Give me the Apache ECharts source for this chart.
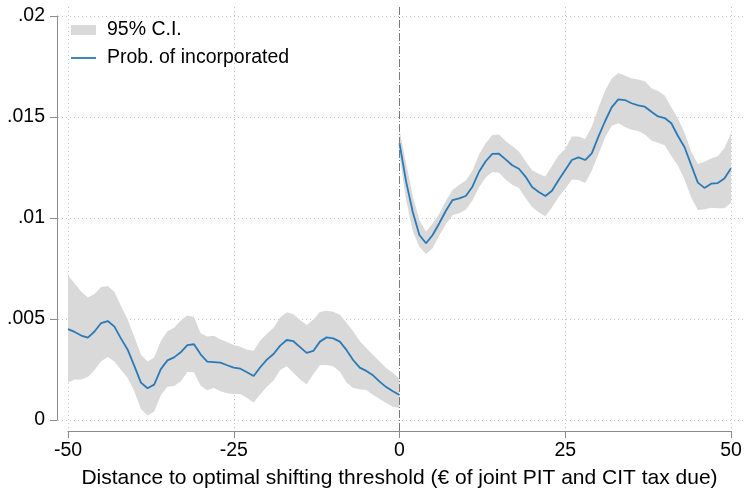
<!DOCTYPE html>
<html><head><meta charset="utf-8">
<script src="https://cdn.jsdelivr.net/npm/echarts@6/dist/echarts.min.js"></script>
<style>html,body{margin:0;padding:0;background:#fff}#c{width:745px;height:491px}</style>
</head><body><div id="c"></div>
<script>
// ---- data ----
const xLeft = [-50,-49,-48,-47,-46,-45,-44,-43,-42,-41,-40,-39,-38,-37,-36,-35,-34,-33,-32,-31,-30,-29,-28,-27,-26,-25,-24,-23,-22,-21,-20,-19,-18,-17,-16,-15,-14,-13,-12,-11,-10,-9,-8,-7,-6,-5,-4,-3,-2,-1,0];
const xRight = [0,1,2,3,4,5,6,7,8,9,10,11,12,13,14,15,16,17,18,19,20,21,22,23,24,25,26,27,28,29,30,31,32,33,34,35,36,37,38,39,40,41,42,43,44,45,46,47,48,49,50];

const meanLeft = [0.00450,0.00436,0.00418,0.00408,0.00438,0.00480,0.00490,0.00462,0.00403,0.00348,0.00268,0.00185,0.00157,0.00175,0.00252,0.00295,0.00310,0.00335,0.00371,0.00375,0.00325,0.00289,0.00287,0.00284,0.00271,0.00259,0.00254,0.00236,0.00218,0.00261,0.00299,0.00327,0.00368,0.00396,0.00390,0.00361,0.00332,0.00342,0.00388,0.00409,0.00404,0.00388,0.00347,0.00297,0.00259,0.00243,0.00221,0.00190,0.00163,0.00142,0.00124];
const upperLeft = [0.00715,0.00677,0.00635,0.00607,0.00624,0.00658,0.00663,0.00634,0.00564,0.00497,0.00412,0.00323,0.00290,0.00310,0.00391,0.00439,0.00457,0.00493,0.00517,0.00510,0.00429,0.00413,0.00417,0.00398,0.00386,0.00371,0.00363,0.00348,0.00343,0.00393,0.00427,0.00457,0.00508,0.00533,0.00523,0.00495,0.00470,0.00498,0.00535,0.00541,0.00536,0.00521,0.00483,0.00439,0.00391,0.00356,0.00323,0.00290,0.00257,0.00233,0.00205];
const lowerLeft = [0.00186,0.00200,0.00201,0.00213,0.00248,0.00291,0.00312,0.00290,0.00248,0.00208,0.00142,0.00054,0.00022,0.00042,0.00122,0.00164,0.00168,0.00190,0.00238,0.00236,0.00170,0.00147,0.00158,0.00142,0.00132,0.00129,0.00129,0.00109,0.00087,0.00127,0.00165,0.00195,0.00248,0.00266,0.00234,0.00201,0.00177,0.00228,0.00271,0.00272,0.00266,0.00239,0.00186,0.00158,0.00152,0.00149,0.00125,0.00104,0.00084,0.00066,0.00060];

const meanRight = [0.01370,0.01180,0.01030,0.00916,0.00875,0.00916,0.00974,0.01036,0.01089,0.01097,0.01109,0.01155,0.01229,0.01281,0.01317,0.01318,0.01290,0.01261,0.01244,0.01205,0.01153,0.01129,0.01109,0.01135,0.01188,0.01238,0.01287,0.01300,0.01287,0.01320,0.01403,0.01479,0.01548,0.01587,0.01584,0.01568,0.01558,0.01551,0.01526,0.01503,0.01495,0.01469,0.01406,0.01350,0.01262,0.01175,0.01149,0.01170,0.01173,0.01195,0.01246];
const upperRight = [0.01436,0.01270,0.01110,0.00990,0.00932,0.00974,0.01021,0.01086,0.01139,0.01165,0.01186,0.01234,0.01314,0.01370,0.01411,0.01413,0.01381,0.01355,0.01330,0.01281,0.01236,0.01219,0.01205,0.01257,0.01310,0.01343,0.01403,0.01404,0.01391,0.01452,0.01545,0.01630,0.01691,0.01718,0.01706,0.01690,0.01686,0.01677,0.01642,0.01629,0.01607,0.01548,0.01493,0.01422,0.01328,0.01267,0.01279,0.01294,0.01307,0.01345,0.01419];
const lowerRight = [0.01304,0.01090,0.00935,0.00858,0.00822,0.00850,0.00914,0.00969,0.01013,0.01023,0.01041,0.01087,0.01152,0.01201,0.01228,0.01224,0.01191,0.01165,0.01149,0.01099,0.01054,0.01028,0.01008,0.01053,0.01104,0.01145,0.01190,0.01188,0.01173,0.01234,0.01315,0.01398,0.01457,0.01469,0.01450,0.01437,0.01431,0.01413,0.01384,0.01373,0.01360,0.01307,0.01259,0.01191,0.01102,0.01040,0.01043,0.01051,0.01048,0.01048,0.01076];

const xTickValues = [-50, -25, 0, 25, 50];
const yTickValues = [0, 0.005, 0.01, 0.015, 0.02];
const yTickLabels = ['0', '.005', '.01', '.015', '.02'];
const xTitle = 'Distance to optimal shifting threshold (€ of joint PIT and CIT tax due)';
const ciName = '95% C.I.';
const lineName = 'Prob. of incorporated';

// ---- chart ----
const FONT = '"Liberation Sans", Arial, Helvetica, sans-serif';
const BLUE = '#2a7ab8';
const BAND = '#d9d9d9';
const AXIS = '#8c8c8c';
const chart = echarts.init(document.getElementById('c'), null, {renderer: 'canvas'});
const pairs = (xs, ys) => xs.map((x, i) => [x, ys[i]]);
const bands = [
  {x: xLeft, lo: lowerLeft, hi: upperLeft},
  {x: xRight, lo: lowerRight, hi: upperRight}
];
const px = v => Math.round(v) + 0.5;

const option = {
  animation: false,
  backgroundColor: '#fff',
  grid: {left: 68, right: 14, top: 16, bottom: 71, containLabel: false, outerBoundsMode: 'none'},
  legend: {
    left: 71, top: 20, orient: 'vertical', padding: 0,
    itemWidth: 25, itemHeight: 10, itemGap: 8, symbolKeepAspect: true,
    textStyle: {fontSize: 19.5, fontFamily: FONT, color: '#000', padding: [0, 0, 0, 6]},
    data: [
      {name: ciName, icon: 'rect'},
      {name: lineName, icon: 'path://M0,0 L25,0 L25,1.8 L0,1.8 Z'}
    ]
  },
  xAxis: {
    type: 'value', min: -50, max: 50, interval: 25, offset: 11,
    axisLine: {show: true, onZero: false, lineStyle: {color: AXIS, width: 1}},
    axisTick: {show: true, length: 7, lineStyle: {color: AXIS, width: 1}},
    axisLabel: {color: '#000', fontSize: 19.5, fontFamily: FONT, margin: 10},
    splitLine: {show: false},
    name: xTitle, nameLocation: 'middle', nameGap: 37,
    nameTextStyle: {color: '#000', fontSize: 21, fontFamily: FONT}
  },
  yAxis: {
    type: 'value', min: 0, max: 0.02, interval: 0.005, offset: 11,
    axisLine: {show: true, onZero: false, lineStyle: {color: AXIS, width: 1}},
    axisTick: {show: true, length: 7, lineStyle: {color: AXIS, width: 1}},
    axisLabel: {color: '#000', fontSize: 19.5, fontFamily: FONT, margin: 12,
      formatter: (v, i) => yTickLabels[i]},
    splitLine: {show: false}
  },
  series: [
    { // grid lines
      type: 'custom', silent: true, z: 1, clip: false,
      data: [[0, 0]],
      renderItem: (p, api) => {
        const lo = api.coord([-50, 0]), hi = api.coord([50, 0.02]);
        const ch = [];
        const st = {stroke: '#c6c6c6', lineWidth: 1, lineDash: [1, 3]};
        yTickValues.forEach(v => {
          const c = api.coord([0, v]);
          ch.push({type: 'line', shape: {x1: lo[0] - 10, y1: px(c[1]), x2: hi[0] + 12, y2: px(c[1])}, style: st});
        });
        xTickValues.forEach(v => {
          if (v === 0) return;
          const c = api.coord([v, 0]);
          ch.push({type: 'line', shape: {x1: px(c[0]), y1: hi[1] - 9, x2: px(c[0]), y2: lo[1] + 8}, style: st});
        });
        return {type: 'group', children: ch};
      }
    },
    { // confidence band
      type: 'custom', name: ciName, z: 2, clip: false, silent: true,
      itemStyle: {color: BAND},
      data: [[-50, 0], [0, 0.01]],
      renderItem: (p, api) => {
        const b = bands[p.dataIndex];
        const pts = [];
        for (let i = 0; i < b.x.length; i++) pts.push(api.coord([b.x[i], b.lo[i]]));
        for (let i = b.x.length - 1; i >= 0; i--) pts.push(api.coord([b.x[i], b.hi[i]]));
        return {type: 'polygon', shape: {points: pts}, style: {fill: BAND}};
      }
    },
    {
      type: 'line', name: lineName, z: 3, symbol: 'none', silent: true,
      data: pairs(xLeft, meanLeft),
      lineStyle: {color: BLUE, width: 1.8}, itemStyle: {color: BLUE}
    },
    {
      type: 'line', name: lineName, z: 3, symbol: 'none', silent: true,
      data: pairs(xRight, meanRight),
      lineStyle: {color: BLUE, width: 1.8}, itemStyle: {color: BLUE}
    },
    { // threshold line
      type: 'custom', silent: true, z: 4, clip: false,
      data: [[0, 0]],
      renderItem: (p, api) => {
        const c = api.coord([0, 0]), t = api.coord([0, 0.02]);
        return {type: 'line', shape: {x1: px(c[0]) - 1, y1: t[1] - 9, x2: px(c[0]) - 1, y2: c[1] + 11},
          style: {stroke: '#7a7a7a', lineWidth: 1, lineDash: [8, 2, 1, 2]}};
      }
    }
  ]
};
chart.setOption(option);
</script>
</body></html>
